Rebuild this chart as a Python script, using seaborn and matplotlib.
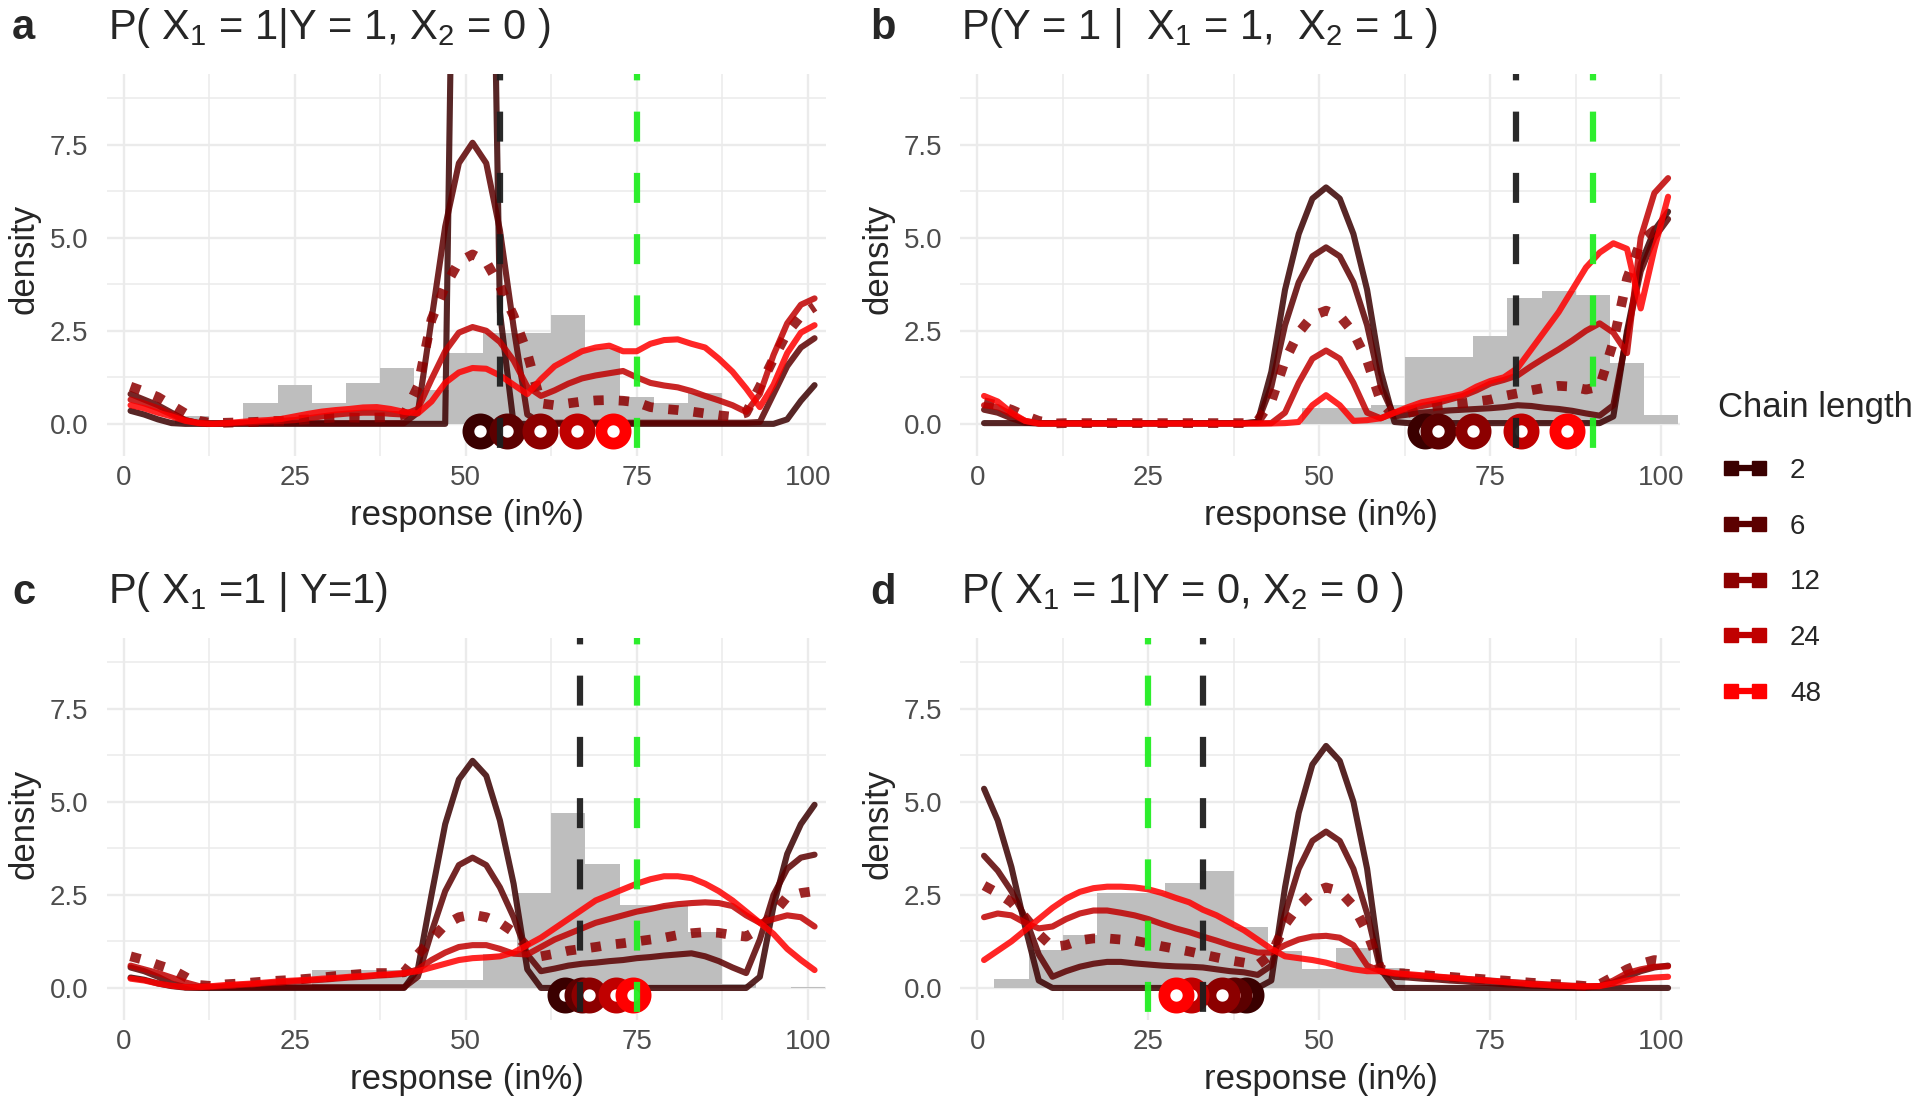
import matplotlib
matplotlib.use("Agg")
import matplotlib.pyplot as plt
import seaborn as sns
import numpy as np
import pandas as pd
from matplotlib.lines import Line2D

# ---------------- data ----------------
X = list(range(1, 102, 2))            # response grid (in %)
BIN_CENTERS = list(range(0, 101, 5))  # histogram bin centres
CHAINS = ["2", "6", "12", "24", "48"]

# panel a : P(X1 = 1 | Y = 1, X2 = 0)
A_2 = [0.35,0.25,0.12,0.02, 0,0,0,0,0,0,0,0,0,0, 0,0,0,0,0,0,0,0,0,
       0, 25,30,25,3,0, 0,0,0,0,0,0,0,0,0,0, 0,0,0,0,0,0,0,0,0, 0.12,0.62,1.04]
A_6 = [0.8,0.65,0.5,0.3,0.1,0.02, 0.02,0.02,0.02,0.02,0.02,0.02,0.02,0.02,0.02,0.02,0.02,0.02,0.02,0.02,0.02,
       0.3,2.8,5.3,7.0,7.55,7.0,5.2,2.6,0.25,
       0.03,0.03,0.03,0.03,0.03,0.03,0.03,0.03,0.03,0.03,0.03,0.03,0.03,0.03,0.03,0.03,0.05,
       0.8,1.55,2.05,2.3]
A_12 = [1.0,0.87,0.72,0.5,0.28,0.08,0.02,0.03,0.04,0.05,0.07,0.08,0.1,0.12,0.15,0.17,0.17,0.16,0.17,0.18,0.25,
        1.0,2.8,3.7,4.35,4.55,4.35,3.7,2.9,1.9,0.55,
        0.5,0.55,0.6,0.63,0.64,0.62,0.58,0.45,0.4,0.37,
        0.33,0.28,0.23,0.19,0.3,1.0,1.75,2.45,2.9,3.15]
A_24 = [0.65,0.55,0.42,0.25,0.1,0.02,0.0,0.01,0.02,0.04,0.06,0.08,0.1,0.15,0.2,0.25,0.28,0.3,0.3,0.27,0.25,
        0.4,1.2,1.95,2.45,2.6,2.5,2.2,1.7,1.0,0.75,
        0.9,1.08,1.22,1.3,1.36,1.42,1.25,1.1,1.03,0.98,
        0.88,0.75,0.63,0.5,0.32,0.8,1.85,2.7,3.2,3.37]
A_48 = [0.5,0.42,0.3,0.2,0.08,0.02,0.0,0.02,0.05,0.08,0.1,0.13,0.2,0.27,0.33,0.37,0.4,0.44,0.45,0.4,0.32,
        0.28,0.6,1.1,1.38,1.5,1.48,1.3,1.05,0.8,1.2,
        1.55,1.75,1.95,2.05,2.1,1.95,1.95,2.15,2.25,2.27,
        2.15,2.05,1.75,1.4,0.95,0.45,1.05,1.9,2.45,2.65]
HIST_A = [0,0,0.2,0,0.56,1.04,0.56,1.1,1.5,0.9,1.9,2.45,2.45,2.92,2.04,0.73,0.55,0.82,0,0,0]

# panel b : P(Y = 1 | X1 = 1, X2 = 1)
B_2 = [0.02,0.02,0.02,0.02,0.02,0.02,0.02,0.02,0.02,0.02,0.02,0.02,0.02,0.02,0.02,0.02,0.02,0.02,0.02,0.02,
       0.05, 1.4,3.6,5.1,6.05,6.35,6.05,5.1,3.6,1.4, 0.05,
       0.02,0.02,0.02,0.02,0.02,0.02,0.02,0.02,0.02,0.02,0.02,0.02,0.02,0.02,0.02,
       0.2,2.5,4.3,5.2,5.7]
B_6 = [0.38,0.3,0.15,0.03, 0.01,0.01,0.01,0.01,0.01,0.01,0.01,0.01,0.01,0.01,0.01,0.01,0.01,0.01,0.01,0.01,
       0.05, 1.0,2.65,3.8,4.5,4.74,4.5,3.8,2.65,1.0,
       0.2,0.25,0.3,0.33,0.36,0.38,0.4,0.42,0.45,0.5,
       0.48,0.43,0.4,0.35,0.28,0.22,0.5,2.4,4.1,5.0,5.5]
B_12 = [0.58,0.5,0.38,0.22,0.08,0.01, 0.02,0.02,0.02,0.02,0.02,0.02,0.02,0.02,0.02,0.02,0.02,0.02,0.02,0.02,
        0.08, 0.6,1.7,2.45,2.9,3.04,2.9,2.45,1.7,0.6,
        0.2,0.3,0.4,0.48,0.52,0.55,0.6,0.65,0.75,0.82,
        0.9,0.97,1.02,1.0,0.92,1.0,2.2,3.9,4.9,5.2,5.2]
B_24 = [0.5,0.45,0.25,0.08, 0.01,0.01,0.01,0.01,0.01,0.01,0.01,0.01,0.01,0.01,0.01,0.01,0.01,0.01,0.01,0.01,0.01,
        0.02,0.3,1.1,1.75,1.97,1.75,1.1,0.3,0.15,0.3,
        0.4,0.48,0.55,0.65,0.75,0.9,1.08,1.18,1.3,1.55,
        1.78,2.0,2.24,2.5,2.7,2.45,1.9,5.0,6.2,6.6]
B_48 = [0.75,0.6,0.3,0.08, 0.01,0.01,0.01,0.01,0.01,0.01,0.01,0.01,0.01,0.01,0.01,0.01,0.01,0.01,0.01,0.01,0.01,0.01,
        0.02,0.05,0.5,0.77,0.5,0.08,0.1,0.15,0.3,0.45,
        0.58,0.65,0.72,0.8,1.0,1.15,1.25,1.5,2.0,2.5,
        3.0,3.6,4.2,4.6,4.85,4.7,3.1,4.7,6.1]
HIST_B = [0,0,0,0,0,0,0,0,0,0,0.42,0.42,0.5,1.8,1.8,2.36,3.37,3.58,3.45,1.64,0.24]

# panel c : P(X1 = 1 | Y = 1)
C_2 = [0.28,0.22,0.12,0.05,0.01, 0,0,0,0,0,0,0,0,0,0,0,0,0,0,0,0,
       0.5,2.5,4.4,5.6,6.1,5.7,4.5,2.8,0.5,
       0,0,0,0,0,0,0,0,0,0,0,0,0,0,0,0,
       0.3,2.2,3.6,4.4,4.92]
C_6 = [0.55,0.45,0.3,0.12,0.02, 0.02,0.02,0.02,0.02,0.02,0.02,0.02,0.02,0.02,0.02,0.02,0.02,0.02,0.02,0.02,0.02,
       0.3,1.5,2.6,3.3,3.5,3.3,2.7,1.9,0.9,
       0.45,0.52,0.6,0.65,0.68,0.72,0.75,0.8,0.83,0.87,
       0.9,0.93,0.85,0.72,0.55,0.4,1.3,2.5,3.2,3.5,3.58]
C_12 = [0.85,0.75,0.62,0.5,0.3,0.08,0.05,0.1,0.12,0.15,0.18,0.2,0.22,0.25,0.28,0.32,0.35,0.38,0.4,0.4,0.42,
        0.9,1.3,1.7,1.9,1.97,1.9,1.75,1.5,1.1,0.85,
        0.92,1.0,1.05,1.1,1.16,1.2,1.25,1.3,1.35,1.42,
        1.47,1.5,1.48,1.42,1.38,1.6,2.0,2.45,2.55,2.6]
C_24 = [0.6,0.5,0.4,0.28,0.15,0.05,0.03,0.05,0.08,0.1,0.13,0.15,0.18,0.2,0.22,0.25,0.28,0.3,0.33,0.35,0.38,
        0.5,0.75,0.95,1.1,1.15,1.15,1.05,0.92,0.9,1.1,
        1.3,1.45,1.6,1.75,1.85,1.95,2.05,2.12,2.2,2.25,
        2.28,2.3,2.28,2.2,1.95,1.75,1.85,1.95,1.9,1.65]
C_48 = [0.25,0.2,0.12,0.06,0.02,0.02,0.05,0.08,0.1,0.12,0.15,0.18,0.2,0.22,0.25,0.27,0.3,0.32,0.35,0.37,0.4,
        0.45,0.55,0.65,0.75,0.8,0.82,0.85,0.95,1.15,1.35,
        1.6,1.85,2.1,2.35,2.5,2.65,2.8,2.92,3.0,3.0,
        2.95,2.8,2.6,2.35,2.05,1.75,1.45,1.05,0.75,0.48]
HIST_C = [0,0,0,0,0,0,0.47,0.47,0.47,0.22,0.22,0.9,2.54,4.7,3.34,2.23,2.23,1.5,0.1,0,0.03]

# panel d : P(X1 = 1 | Y = 0, X2 = 0)
D_2 = [5.35,4.5,3.25,1.65,0.2, 0,0,0,0,0,0,0,0,0,0,0,0,0,0,0,0,
       0.2,2.7,4.7,6.0,6.5,6.1,5.0,3.2,0.5,
       0,0,0,0,0,0,0,0,0,0,0,0,0,0,0,0,0,0,0,0,0]
D_6 = [3.55,3.15,2.6,1.9,0.9,0.3,0.45,0.57,0.65,0.7,0.7,0.66,0.63,0.6,0.58,0.57,0.55,0.5,0.45,0.42,0.35,
       0.6,2.0,3.2,3.95,4.2,3.95,3.2,2.0,0.45,0.3,
       0.28,0.25,0.23,0.2,0.18,0.15,0.13,0.1,0.08,0.06,
       0.05,0.03,0.02,0.01,0.05,0.15,0.3,0.45,0.55,0.6]
D_12 = [2.75,2.55,2.3,1.9,1.45,1.1,1.15,1.28,1.33,1.33,1.3,1.27,1.2,1.12,1.05,0.98,0.9,0.82,0.74,0.68,0.62,
        0.9,1.7,2.2,2.55,2.7,2.6,2.2,1.5,0.5,0.4,
        0.38,0.35,0.32,0.3,0.27,0.25,0.22,0.2,0.17,0.14,
        0.12,0.1,0.08,0.05,0.1,0.3,0.5,0.65,0.75,0.7]
D_24 = [1.9,2.0,1.95,1.75,1.6,1.65,1.85,2.0,2.08,2.08,2.02,1.95,1.85,1.72,1.6,1.5,1.38,1.27,1.15,1.05,0.95,
        0.95,1.15,1.3,1.38,1.4,1.35,1.15,0.6,0.45,0.38,
        0.35,0.32,0.3,0.27,0.25,0.22,0.2,0.17,0.15,0.12,
        0.1,0.08,0.06,0.05,0.05,0.2,0.4,0.5,0.57,0.58]
D_48 = [0.75,1.0,1.25,1.55,1.85,2.15,2.4,2.58,2.68,2.72,2.72,2.7,2.65,2.55,2.42,2.3,2.1,1.95,1.75,1.55,1.3,
        1.05,0.85,0.8,0.75,0.68,0.58,0.5,0.45,0.45,0.4,
        0.37,0.34,0.31,0.28,0.25,0.22,0.19,0.16,0.13,0.1,
        0.08,0.06,0.05,0.04,0.05,0.12,0.2,0.25,0.28,0.3]
HIST_D = [0,0.23,1.02,1.42,2.54,2.54,2.83,3.15,1.65,1.0,0.5,1.08,0.54,0,0,0,0,0,0,0,0]

MEANS_A = [52.1, 56.0, 60.9, 66.2, 71.6]
MEANS_B = [65.5, 67.3, 72.5, 79.5, 86.2]
MEANS_C = [64.5, 67.0, 68.0, 72.0, 74.5]
MEANS_D = [39.3, 37.5, 35.8, 31.2, 29.0]

BLACK_X = [55, 78.7, 66.7, 33]
GREEN_X = [75, 90, 75, 25]

TITLES = ["P( X$_1$ = 1|Y = 1, X$_2$ = 0 )",
          "P(Y = 1 |  X$_1$ = 1,  X$_2$ = 1 )",
          "P( X$_1$ =1 | Y=1)",
          "P( X$_1$ = 1|Y = 0, X$_2$ = 0 )"]
LETTERS = ["a", "b", "c", "d"]

PANELS = [
    (A_2, A_6, A_12, A_24, A_48, HIST_A, MEANS_A),
    (B_2, B_6, B_12, B_24, B_48, HIST_B, MEANS_B),
    (C_2, C_6, C_12, C_24, C_48, HIST_C, MEANS_C),
    (D_2, D_6, D_12, D_24, D_48, HIST_D, MEANS_D),
]

# ---------------- style ----------------
sns.set_theme(style="white")
plt.rcParams["font.family"] = ["Liberation Sans", "DejaVu Sans"]
plt.rcParams["mathtext.default"] = "regular"

COLORS = ["#3a0000", "#5c0000", "#8c0000", "#c00000", "#ff0000"]
GRID = "#EBEBEB"

W, H = 1920, 1103
fig = plt.figure(figsize=(W / 100, H / 100), dpi=100)

ax_w = 719.6 / W
ax_h = 382.0 / H
lefts = [106.6 / W, 960.1 / W, 106.6 / W, 960.1 / W]
bottoms = [1 - 455.5 / H, 1 - 455.5 / H, 1 - 1019.6 / H, 1 - 1019.6 / H]

for i, (c2, c6, c12, c24, c48, hist, means) in enumerate(PANELS):
    ax = fig.add_axes([lefts[i], bottoms[i], ax_w, ax_h])
    ax.set_axisbelow(True)
    hdf = pd.DataFrame({"response": BIN_CENTERS, "h": hist})
    sns.histplot(data=hdf, x="response", weights="h", binwidth=5,
                 binrange=(-2.5, 102.5), color="#BEBEBE",
                 alpha=1.0, linewidth=0, ax=ax, zorder=1)
    curves = [c2, c6, c12, c24, c48]
    for j, vals in enumerate(curves):
        if j == 2:
            sns.lineplot(x=X, y=vals, ax=ax, color=COLORS[j], alpha=0.85,
                         linewidth=7.0, linestyle=(0, (1.05, 1.55)),
                         dash_capstyle="butt", zorder=3)
        else:
            sns.lineplot(x=X, y=vals, ax=ax, color=COLORS[j], alpha=0.85,
                         linewidth=4.4, solid_capstyle="round",
                         solid_joinstyle="round", zorder=3)
    for j, m in enumerate(means):
        ax.scatter([m], [-0.18], s=17.4 ** 2, facecolors="white",
                   edgecolors=COLORS[j], linewidths=8.5, zorder=5)
    ax.axvline(BLACK_X[i], color="#1e1e1e", alpha=0.95, lw=4.5,
               linestyle=(8.5, (4.8, 5.0)), dash_capstyle="butt", zorder=6)
    ax.axvline(GREEN_X[i], color="#22ee22", alpha=0.95, lw=4.5,
               linestyle=(8.5, (4.8, 5.0)), dash_capstyle="butt", zorder=6)

    ax.set_xlim(-2.5, 102.7)
    ax.set_ylim(-0.85, 9.41)
    ax.set_xticks([0, 25, 50, 75, 100])
    ax.set_xticklabels(["0", "25", "50", "75", "100"])
    ax.set_yticks([0, 2.5, 5, 7.5])
    ax.set_yticklabels(["0.0", "2.5", "5.0", "7.5"])
    ax.set_xticks([12.5, 37.5, 62.5, 87.5], minor=True)
    ax.set_yticks([1.25, 3.75, 6.25, 8.75], minor=True)
    ax.grid(which="major", color=GRID, lw=1.7)
    ax.grid(which="minor", color=GRID, lw=1.1)
    ax.tick_params(which="both", length=0)
    ax.tick_params(axis="x", labelsize=20, labelcolor="#4D4D4D", pad=7)
    ax.tick_params(axis="y", labelsize=20, labelcolor="#4D4D4D", pad=13)
    for s in ax.spines.values():
        s.set_visible(False)
    ax.set_xlabel("")
    ax.set_ylabel("")

    col = i % 2
    row = i // 2
    dy = 564.5 * row
    x_left = 108 if col == 0 else 961
    x_letter = 12 if col == 0 else 870
    fig.text(x_letter / W, 1 - (39 + dy) / H, LETTERS[i], fontsize=30,
             fontweight="bold", ha="left", va="baseline")
    fig.text(x_left / W, 1 - (39 + dy) / H, TITLES[i], fontsize=30,
             ha="left", va="baseline")
    fig.text((466.5 if col == 0 else 1321) / W, 1 - (515 + dy) / H,
             "response (in%)", fontsize=25, ha="center", va="center")
    fig.text((24.5 if col == 0 else 878) / W, 1 - (259 + dy) / H,
             "density", fontsize=25, rotation=90, ha="center", va="center")

# legend
handles = [Line2D([], [], color=c, lw=4.5, marker="s", markersize=10)
           for c in COLORS]
fig.text(1718 / W, 1 - 417 / H, "Chain length", fontsize=25,
         ha="left", va="baseline")
fig.legend(handles, CHAINS, loc="upper left",
           bbox_to_anchor=(1723 / W, 1 - 458 / H), frameon=False,
           fontsize=20, labelspacing=1.07, handlelength=1.58,
           handletextpad=0.83, borderpad=0, borderaxespad=0, numpoints=2)

fig.savefig("out.png", dpi=100, facecolor="white")
